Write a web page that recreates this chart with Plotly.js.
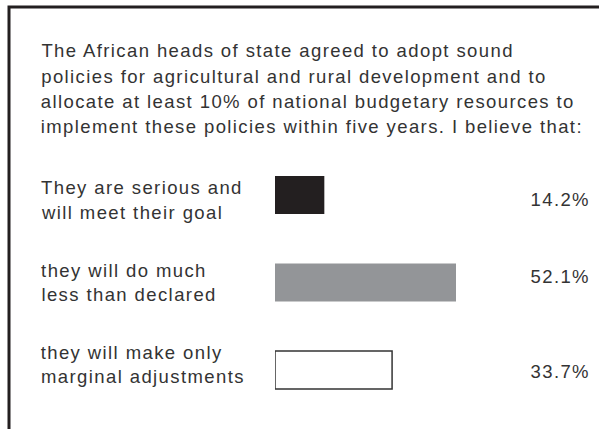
<!DOCTYPE html>
<html>
<head>
<meta charset="utf-8">
<script src="https://cdn.plot.ly/plotly-3.0.1.min.js"></script>
<style>
html,body{margin:0;padding:0;background:#fff;}
#chart{width:599px;height:429px;}
#chart .annotation-text{letter-spacing:1.4px;}
</style>
</head>
<body>
<div id="chart"></div>
<script>
const question = [
  "The African heads of state agreed to adopt sound",
  "policies for agricultural and rural development and to",
  "allocate at least 10% of national budgetary resources to",
  "implement these policies within five years. I believe that:"
];
const categories = [
  "They are serious and<br>will meet their goal",
  "they will do much<br>less than declared",
  "they will make only<br>marginal adjustments"
];
const values = [14.2, 52.1, 33.7];

const W = 599, H = 429;
const FONT = "Liberation Sans, Arial, sans-serif";
const FS = 18.5;
const LS = 1.4; // letter-spacing set in CSS above
const TXT = "#333333";
const px2x = p => p / W;
const px2y = p => 1 - p / H;
// Plotly centres annotation text, so the extra tracking spreads both ways; shift it back.
const comp = s => s.length * LS / 2;

const barColors = ["#231f20", "#939598", "#ffffff"];
const lineWidths = [0, 0, 1.5];

const trace = {
  type: "bar",
  orientation: "h",
  y: categories.map((c, i) => i),
  x: values,
  width: 0.434,
  marker: { color: barColors, line: { color: "#333333", width: lineWidths } },
  hoverinfo: "skip"
};

const annotations = [];
const qY = [50, 76, 101, 126];
question.forEach((t, i) => annotations.push({
  xref: "paper", yref: "paper", x: px2x(39), y: px2y(qY[i]), xshift: comp(t),
  xanchor: "left", yanchor: "middle", showarrow: false, text: t,
  font: { family: FONT, size: FS, color: TXT }
}));
const labelOffsets = [5, 0, -5.5];
const lineGap = 24.5;
categories.forEach((c, i) => {
  const lines = c.split("<br>");
  lines.forEach((ln, j) => annotations.push({
    xref: "paper", yref: "y", x: px2x(39), y: i, xshift: comp(ln),
    yshift: -(labelOffsets[i] + (j - (lines.length - 1) / 2) * lineGap),
    xanchor: "left", yanchor: "middle", showarrow: false, text: ln,
    font: { family: FONT, size: FS, color: TXT }
  }));
});
const pctOffsets = [4, -6.5, 1];
values.forEach((v, i) => {
  const t = v.toFixed(1) + "%";
  annotations.push({
    xref: "paper", yref: "y", x: px2x(528), y: i, xshift: comp(t), yshift: -pctOffsets[i],
    xanchor: "left", yanchor: "middle", showarrow: false, text: t,
    font: { family: FONT, size: FS, color: TXT }
  });
});

const xMax = 60, pxPerUnit = 181 / 52.1, x0 = 275;
const layout = {
  width: W, height: H,
  margin: { l: 0, r: 0, t: 0, b: 0 },
  paper_bgcolor: "#ffffff", plot_bgcolor: "rgba(0,0,0,0)",
  showlegend: false,
  xaxis: { domain: [px2x(x0), px2x(x0 + xMax * pxPerUnit)], range: [0, xMax], visible: false, fixedrange: true },
  yaxis: { domain: [px2y(413.75), px2y(151.25)], range: [2.5, -0.5], visible: false, fixedrange: true },
  annotations: annotations,
  shapes: [{
    type: "path", xref: "paper", yref: "paper",
    path: `M ${px2x(9)} 0 L ${px2x(9)} ${px2y(7)} L 1 ${px2y(7)}`,
    line: { color: "#231f20", width: 3 }
  }]
};

Plotly.newPlot("chart", [trace], layout, { displayModeBar: false, staticPlot: true });
</script>
</body>
</html>
